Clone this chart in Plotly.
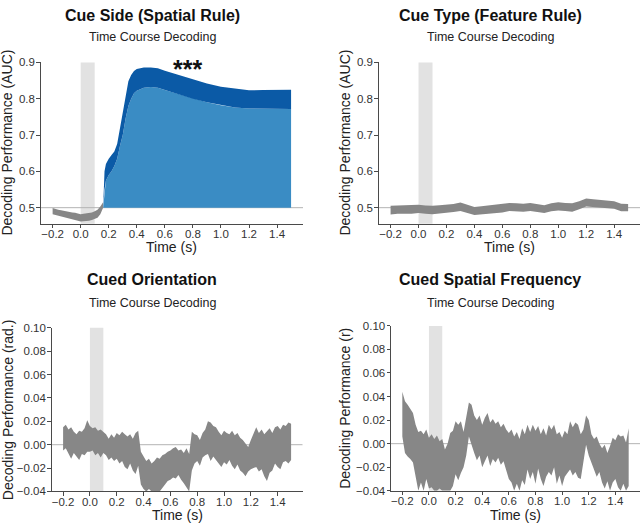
import plotly.graph_objects as go

# ---------------- data ----------------
CHANCE_AUC = 0.5
CHANCE_CORR = 0.0
STIM_ON, STIM_OFF = 0.0, 0.1

# Panel A: Cue Side (Spatial Rule)  -- non-significant part (grey)
cs_time_ns = [-0.20, -0.18, -0.16, -0.14, -0.12, -0.10, -0.08, -0.06, -0.04, -0.02,
              0.00, 0.02, 0.04, 0.06, 0.08, 0.10, 0.12, 0.14, 0.16]
cs_hi_ns = [0.499, 0.496, 0.494, 0.493, 0.491, 0.490, 0.489, 0.487, 0.486, 0.484,
            0.482, 0.483, 0.484, 0.485, 0.487, 0.490, 0.494, 0.503, 0.515]
cs_lo_ns = [0.482, 0.479, 0.477, 0.475, 0.473, 0.471, 0.470, 0.468, 0.466, 0.464,
            0.462, 0.461, 0.463, 0.464, 0.466, 0.468, 0.472, 0.482, 0.500]
# significant part (blue)
cs_time_sig = [0.16, 0.17, 0.18, 0.20, 0.22, 0.24, 0.26, 0.28, 0.30, 0.32, 0.34, 0.36,
               0.38, 0.40, 0.45, 0.50, 0.55, 0.60, 0.70, 0.80, 0.90, 1.00, 1.10, 1.20,
               1.30, 1.40, 1.50]
cs_hi_sig = [0.500, 0.600, 0.620, 0.635, 0.645, 0.655, 0.675, 0.720, 0.770, 0.815, 0.848,
             0.865, 0.876, 0.882, 0.886, 0.886, 0.884, 0.877, 0.865, 0.852, 0.842, 0.833,
             0.827, 0.823, 0.824, 0.825, 0.825]
cs_lo_sig = [0.500, 0.550, 0.575, 0.590, 0.600, 0.615, 0.635, 0.670, 0.700, 0.745, 0.780,
             0.800, 0.815, 0.822, 0.830, 0.832, 0.830, 0.824, 0.812, 0.800, 0.790, 0.782,
             0.776, 0.773, 0.772, 0.772, 0.772]

# Panel B: Cue Type (Feature Rule)
ct_time = [-0.20, -0.15, -0.10, -0.05, 0.00, 0.05, 0.10, 0.15, 0.20, 0.25, 0.30, 0.35,
           0.40, 0.45, 0.50, 0.55, 0.60, 0.65, 0.70, 0.75, 0.80, 0.85, 0.90, 0.95,
           1.00, 1.05, 1.10, 1.15, 1.20, 1.25, 1.30, 1.35, 1.40, 1.45, 1.50]
ct_lo = [0.481, 0.483, 0.484, 0.483, 0.485, 0.483, 0.482, 0.485, 0.486, 0.488, 0.491,
         0.485, 0.480, 0.482, 0.484, 0.485, 0.487, 0.491, 0.490, 0.489, 0.491, 0.488,
         0.485, 0.490, 0.492, 0.491, 0.489, 0.496, 0.503, 0.501, 0.500, 0.499, 0.497,
         0.490, 0.490]
ct_hi = [0.505, 0.506, 0.507, 0.507, 0.508, 0.506, 0.505, 0.507, 0.508, 0.510, 0.514,
         0.507, 0.502, 0.504, 0.506, 0.507, 0.509, 0.513, 0.512, 0.511, 0.513, 0.510,
         0.507, 0.512, 0.515, 0.513, 0.512, 0.518, 0.525, 0.523, 0.522, 0.520, 0.518,
         0.511, 0.510]

# Panels C / D time grid
time_s = [-0.20, -0.18, -0.16, -0.14, -0.12, -0.10, -0.08, -0.06, -0.04, -0.02,
          0.00, 0.02, 0.04, 0.06, 0.08, 0.10, 0.12, 0.14, 0.16, 0.18,
          0.20, 0.22, 0.24, 0.26, 0.28, 0.30, 0.32, 0.34, 0.36, 0.38,
          0.40, 0.42, 0.44, 0.46, 0.48, 0.50, 0.52, 0.54, 0.56, 0.58,
          0.60, 0.62, 0.64, 0.66, 0.68, 0.70, 0.72, 0.74, 0.76, 0.78,
          0.80, 0.82, 0.84, 0.86, 0.88, 0.90, 0.92, 0.94, 0.96, 0.98,
          1.00, 1.02, 1.04, 1.06, 1.08, 1.10, 1.12, 1.14, 1.16, 1.18,
          1.20, 1.22, 1.24, 1.26, 1.28, 1.30, 1.32, 1.34, 1.36, 1.38,
          1.40, 1.42, 1.44, 1.46, 1.48, 1.50]

# Panel C: Cued Orientation
co_hi = [0.015, 0.017, 0.013, 0.015, 0.011, 0.009, 0.012, 0.011, 0.014, 0.021,
         0.016, 0.014, 0.015, 0.012, 0.013, 0.011, 0.009, 0.005, 0.009, 0.006,
         0.010, 0.008, 0.011, 0.009, 0.007, 0.009, 0.005, 0.010, 0.012, -0.006,
         -0.010, -0.014, -0.012, -0.016, -0.014, -0.011, -0.012, -0.009, -0.008, -0.006,
         -0.005, -0.003, -0.002, -0.005, -0.004, -0.007, -0.003, -0.008, 0.011, 0.009,
         0.008, 0.004, 0.010, 0.013, 0.020, 0.019, 0.016, 0.015, 0.011, 0.008,
         0.012, 0.010, 0.009, 0.012, 0.008, 0.010, 0.006, 0.004, 0.001, -0.002,
         0.004, 0.009, 0.015, 0.010, 0.013, 0.009, 0.012, 0.014, 0.010, 0.015,
         0.016, 0.013, 0.017, 0.016, 0.019, 0.018]
co_lo = [-0.005, -0.003, -0.008, -0.012, -0.007, -0.010, -0.013, -0.008, -0.009, -0.006,
         -0.006, -0.005, -0.009, -0.007, -0.011, -0.007, -0.009, -0.013, -0.011, -0.014,
         -0.012, -0.016, -0.014, -0.019, -0.021, -0.016, -0.022, -0.025, -0.018, -0.034,
         -0.038, -0.040, -0.038, -0.040, -0.040, -0.040, -0.040, -0.037, -0.034, -0.031,
         -0.030, -0.028, -0.029, -0.026, -0.030, -0.033, -0.036, -0.040, -0.022, -0.016,
         -0.014, -0.018, -0.011, -0.009, -0.008, -0.014, -0.010, -0.012, -0.016, -0.019,
         -0.015, -0.017, -0.013, -0.018, -0.021, -0.017, -0.022, -0.024, -0.027, -0.023,
         -0.021, -0.020, -0.019, -0.023, -0.021, -0.027, -0.031, -0.024, -0.022, -0.016,
         -0.019, -0.021, -0.015, -0.014, -0.016, -0.013]

# Panel D: Cued Spatial Frequency
csf_hi = [0.044, 0.036, 0.033, 0.030, 0.026, 0.016, 0.010, 0.011, 0.008, 0.012,
          0.005, 0.008, 0.004, 0.007, 0.002, 0.004, -0.005, 0.000, 0.009, 0.011,
          0.019, 0.016, 0.019, 0.010, 0.022, 0.035, 0.033, 0.024, 0.020, 0.024,
          0.016, 0.022, 0.026, 0.018, 0.021, 0.017, 0.019, 0.014, 0.017, 0.012,
          0.009, 0.012, 0.006, 0.010, 0.004, 0.013, 0.008, 0.016, 0.010, 0.016,
          0.011, 0.015, 0.008, 0.013, 0.007, 0.016, 0.012, 0.016, 0.008, 0.010,
          0.005, 0.011, 0.008, 0.019, 0.014, 0.018, 0.016, 0.008, 0.012, 0.024,
          0.020, 0.008, 0.004, 0.006, 0.000, -0.004, -0.001, -0.008, -0.002, 0.005,
          0.003, 0.008, 0.006, 0.007, 0.001, 0.013]
csf_lo = [0.006, -0.008, -0.011, -0.013, -0.016, -0.028, -0.040, -0.033, -0.040, -0.030,
          -0.038, -0.037, -0.040, -0.040, -0.038, -0.040, -0.040, -0.040, -0.040, -0.036,
          -0.026, -0.031, -0.025, -0.020, -0.010, 0.006, 0.000, -0.008, -0.014, -0.010,
          -0.020, -0.015, -0.010, -0.019, -0.013, -0.016, -0.012, -0.018, -0.015, -0.022,
          -0.030, -0.033, -0.040, -0.034, -0.040, -0.031, -0.035, -0.022, -0.030, -0.024,
          -0.034, -0.021, -0.030, -0.036, -0.028, -0.024, -0.027, -0.020, -0.034, -0.027,
          -0.036, -0.028, -0.025, -0.022, -0.027, -0.024, -0.029, -0.030, -0.015, -0.001,
          -0.010, -0.015, -0.022, -0.028, -0.024, -0.033, -0.038, -0.032, -0.040, -0.033,
          -0.030, -0.037, -0.040, -0.034, -0.040, -0.036]

# tick labels
x_tickvals = [-0.2, 0.0, 0.2, 0.4, 0.6, 0.8, 1.0, 1.2, 1.4]
x_ticktext = ["\u22120.2", "0.0", "0.2", "0.4", "0.6", "0.8", "1.0", "1.2", "1.4"]
auc_tickvals = [0.5, 0.6, 0.7, 0.8, 0.9]
auc_ticktext = ["0.5", "0.6", "0.7", "0.8", "0.9"]
r_tickvals = [-0.04, -0.02, 0.0, 0.02, 0.04, 0.06, 0.08, 0.10]
r_ticktext = ["\u22120.04", "\u22120.02", "0.00", "0.02", "0.04", "0.06", "0.08", "0.10"]

titles = ["Cue Side (Spatial Rule)", "Cue Type (Feature Rule)",
          "Cued Orientation", "Cued Spatial Frequency"]
subtitle = "Time Course Decoding"
ylabels = ["Decoding Performance (AUC)", "Decoding Performance (AUC)",
           "Decoding Performance (rad.)", "Decoding Performance (r)"]
xlabel = "Time (s)"
sig_label = "***"

# ---------------- style ----------------
FONT = "Liberation Sans, Arial, Helvetica, sans-serif"
GREY_BAND = "#878787"
LIGHT_BLUE = "#3a8cc4"
DARK_BLUE = "#0b5aa6"
SPAN = "#e2e2e2"
HLINE = "#b3b3b3"
AXIS = "#4a4a4a"
W, H = 642, 530

XR = [-0.285, 1.585]
# pixel boxes (left, right, top, bottom)
boxes = [(40.7, 303.0, 57.7, 222.7), (378.7, 640.0, 57.7, 222.7),
         (51.7, 302.5, 329.3, 496.7), (391.0, 640.0, 327.3, 496.0)]
yranges = [[0.456, 0.9], [0.456, 0.9], [-0.04, 0.10], [-0.04, 0.10]]


def band(x, lo, hi, color, ax):
    return go.Scatter(x=list(x) + list(x)[::-1], y=list(hi) + list(lo)[::-1],
                      fill="toself", fillcolor=color, mode="lines",
                      line=dict(width=0, color=color), hoverinfo="skip",
                      showlegend=False, xaxis="x" + ax, yaxis="y" + ax)


fig = go.Figure()
# Panel A
fig.add_trace(band(cs_time_ns, cs_lo_ns, cs_hi_ns, GREY_BAND, ""))
fig.add_trace(band(cs_time_sig, [CHANCE_AUC] * len(cs_time_sig), cs_lo_sig, LIGHT_BLUE, ""))
fig.add_trace(band(cs_time_sig, cs_lo_sig, cs_hi_sig, DARK_BLUE, ""))
# Panel B
fig.add_trace(band(ct_time, ct_lo, ct_hi, GREY_BAND, "2"))
# Panel C
fig.add_trace(band(time_s, co_lo, co_hi, GREY_BAND, "3"))
# Panel D
fig.add_trace(band(time_s, csf_lo, csf_hi, GREY_BAND, "4"))

layout = dict(width=W, height=H, margin=dict(l=0, r=0, t=0, b=0),
              paper_bgcolor="white", plot_bgcolor="white",
              font=dict(family=FONT, color="#333333"), showlegend=False)

shapes = []
annotations = []
chances = [CHANCE_AUC, CHANCE_AUC, CHANCE_CORR, CHANCE_CORR]
for i, (l, r, t, b) in enumerate(boxes):
    sfx = "" if i == 0 else str(i + 1)
    xd = [l / W, r / W]
    yd = [1 - b / H, 1 - t / H]
    is_auc = i < 2
    common = dict(showline=True, linecolor=AXIS, linewidth=1, ticks="outside",
                  ticklen=3.5, tickwidth=1, tickcolor=AXIS, showgrid=False,
                  zeroline=False, tickfont=dict(size=11.5, color="#333333", family=FONT))
    layout["xaxis" + sfx] = dict(domain=xd, range=XR, anchor="y" + sfx,
                                 tickmode="array", tickvals=x_tickvals,
                                 ticktext=x_ticktext, ticklabelstandoff=-4, **common)
    layout["yaxis" + sfx] = dict(domain=yd, range=yranges[i], anchor="x" + sfx,
                                 tickmode="array",
                                 tickvals=auc_tickvals if is_auc else r_tickvals,
                                 ticktext=auc_ticktext if is_auc else r_ticktext,
                                 ticklabelstandoff=-1, **common)
    xr = "x" + sfx
    yr = "y" + sfx
    shapes.append(dict(type="rect", xref=xr, yref=yr + " domain", x0=STIM_ON, x1=STIM_OFF,
                       y0=0, y1=1, fillcolor=SPAN, line=dict(width=0), layer="below"))
    shapes.append(dict(type="line", xref=xr + " domain", yref=yr, x0=0, x1=1,
                       y0=chances[i], y1=chances[i], line=dict(color=HLINE, width=1),
                       layer="below"))
    # titles
    colc = 152 if i in (0, 2) else 490
    ty = 10 if i < 2 else 280
    sy = 31.7 if i < 2 else 304
    annotations.append(dict(text="<b>" + titles[i] + "</b>", xref="paper", yref="paper",
                            x=colc / W, y=1 - ty / H, xanchor="center", yanchor="middle",
                            showarrow=False, font=dict(size=16, color="#111111", family=FONT)))
    annotations.append(dict(text=subtitle, xref="paper", yref="paper",
                            x=colc / W, y=1 - sy / H, xanchor="center", yanchor="middle",
                            showarrow=False, font=dict(size=12.5, color="#222222", family=FONT)))
    # axis titles
    xty = 247 if i < 2 else 521
    annotations.append(dict(text=xlabel, xref="paper", yref="paper",
                            x=(l + r) / 2 / W, y=1 - xty / H, xanchor="center",
                            yanchor="middle", showarrow=False,
                            font=dict(size=14, color="#222222", family=FONT)))
    ytx = 7.5 if i in (0, 2) else 345.5
    annotations.append(dict(text=ylabels[i], xref="paper", yref="paper",
                            x=ytx / W, y=1 - (t + b) / 2 / H, xanchor="center",
                            yanchor="middle", textangle=-90, showarrow=False,
                            font=dict(size=14, color="#222222", family=FONT)))

annotations.append(dict(text="<b>" + sig_label + "</b>", xref="x", yref="y", x=0.76, y=0.882,
                        xanchor="center", yanchor="middle", showarrow=False,
                        font=dict(size=25, color="#111111", family=FONT)))

layout["shapes"] = shapes
layout["annotations"] = annotations
fig.update_layout(**layout)
fig.write_html("out.html",
               config={"displayModeBar": False, "staticPlot": True},
               post_script="document.body.style.margin='0';"
                           "document.body.style.overflow='hidden';")
